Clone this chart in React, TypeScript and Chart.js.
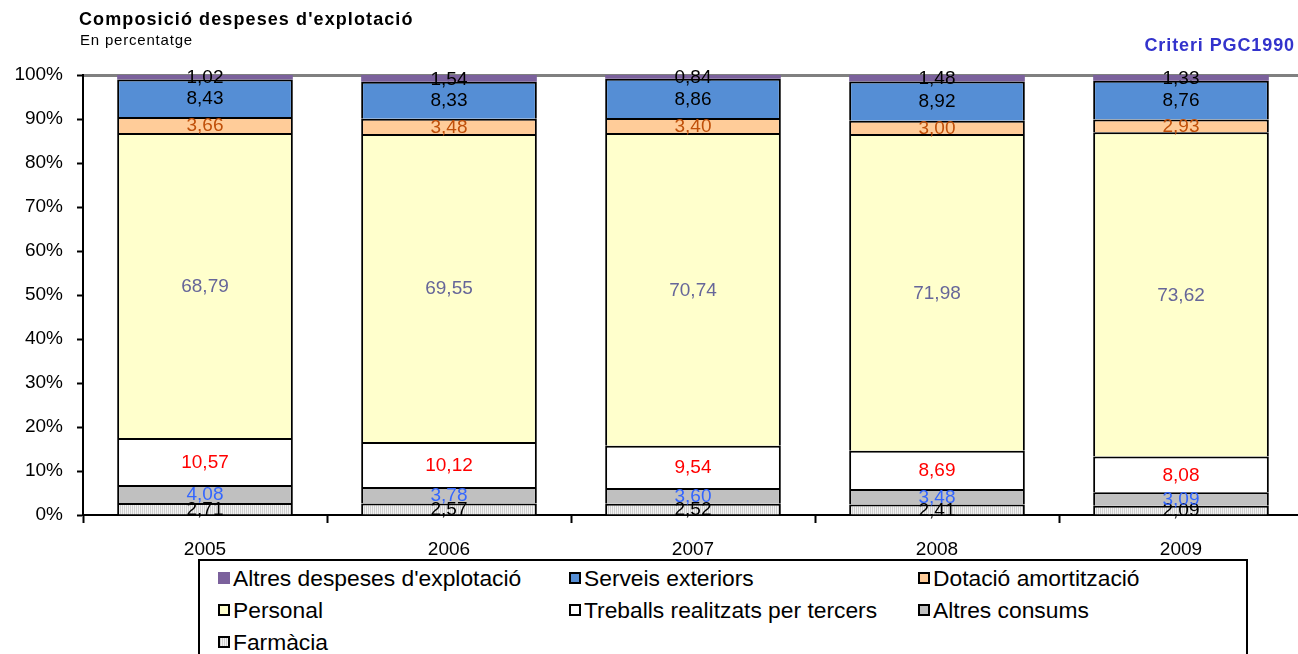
import { useEffect, useRef } from 'react';
import { Chart, registerables } from 'chart.js';

Chart.register(...registerables);

const years = ['2005', '2006', '2007', '2008', '2009'];
const farmacia = [2.71, 2.57, 2.52, 2.41, 2.09];
const altresConsums = [4.08, 3.78, 3.6, 3.48, 3.09];
const treballs = [10.57, 10.12, 9.54, 8.69, 8.08];
const personal = [68.79, 69.55, 70.74, 71.98, 73.62];
const dotacio = [3.66, 3.48, 3.4, 3.0, 2.93];
const serveis = [8.43, 8.33, 8.86, 8.92, 8.76];
const altresDespeses = [1.02, 1.54, 0.84, 1.48, 1.33];
const yTicks = [0, 10, 20, 30, 40, 50, 60, 70, 80, 90, 100];

const FONT = '"Liberation Sans", Arial, Helvetica, sans-serif';

function makeStripePattern(): CanvasPattern | string {
  const c = document.createElement('canvas');
  c.width = 2;
  c.height = 2;
  const g = c.getContext('2d');
  if (!g) return '#e0e0e0';
  g.fillStyle = '#f2f2f2';
  g.fillRect(0, 0, 2, 2);
  g.fillStyle = '#cfcfcf';
  g.fillRect(0, 0, 1, 2);
  const p = g.createPattern(c, 'repeat');
  return p || '#e0e0e0';
}

const fmt = (v: number) => v.toFixed(2).replace('.', ',');

const labelPlugin = {
  id: 'segmentLabels',
  afterDatasetsDraw(chart: any) {
    const ctx = chart.ctx;
    ctx.save();
    ctx.font = `19px ${FONT}`;
    ctx.textAlign = 'center';
    ctx.textBaseline = 'middle';
    chart.data.datasets.forEach((ds: any, di: number) => {
      const meta = chart.getDatasetMeta(di);
      meta.data.forEach((el: any, i: number) => {
        const p = el.getProps(['x', 'y', 'base'], true);
        ctx.fillStyle = ds.labelColor;
        ctx.fillText(fmt(ds.rawValues[i]), p.x, (p.y + p.base) / 2 + 1);
      });
    });
    ctx.restore();
  },
};

const legendItems = [
  { name: "Altres despeses d'explotació", color: '#7b619c', border: false, col: 0, row: 0 },
  { name: 'Serveis exteriors', color: '#558ed5', border: true, col: 1, row: 0 },
  { name: 'Dotació amortització', color: '#ffcc99', border: true, col: 2, row: 0 },
  { name: 'Personal', color: '#ffffcc', border: true, col: 0, row: 1 },
  { name: 'Treballs realitzats per tercers', color: '#ffffff', border: true, col: 1, row: 1 },
  { name: 'Altres consums', color: '#c0c0c0', border: true, col: 2, row: 1 },
  { name: 'Farmàcia', color: 'stripe', border: true, col: 0, row: 2 },
];

export default function App() {
  const ref = useRef<HTMLCanvasElement>(null);

  useEffect(() => {
    const canvas = ref.current;
    if (!canvas) return;
    const stripe = makeStripePattern();

    const series = [
      { label: 'Farmàcia', values: farmacia, bg: stripe, border: 2, labelColor: '#000000' },
      { label: 'Altres consums', values: altresConsums, bg: '#c0c0c0', border: 2, labelColor: '#3366ff' },
      { label: 'Treballs realitzats per tercers', values: treballs, bg: '#ffffff', border: 2, labelColor: '#ff0000' },
      { label: 'Personal', values: personal, bg: '#ffffcc', border: 2, labelColor: '#666699' },
      { label: 'Dotació amortització', values: dotacio, bg: '#ffcc99', border: 2, labelColor: '#c0500a' },
      { label: 'Serveis exteriors', values: serveis, bg: '#558ed5', border: 2, labelColor: '#000000' },
      { label: "Altres despeses d'explotació", values: altresDespeses, bg: '#7b619c', border: 0, labelColor: '#000000' },
    ];

    const totals = years.map((_, i) => series.reduce((s, d) => s + d.values[i], 0));

    const chart = new Chart(canvas, {
      type: 'bar',
      data: {
        labels: years,
        datasets: series.map((s) => ({
          label: s.label,
          data: s.values.map((v, i) => (v / totals[i]) * 100),
          rawValues: s.values,
          labelColor: s.labelColor,
          backgroundColor: s.bg as any,
          borderColor: '#000000',
          borderWidth: s.border,
          borderSkipped: 'start',
          barPercentage: 0.72,
          categoryPercentage: 1,
        })) as any,
      },
      options: {
        responsive: false,
        animation: false,
        devicePixelRatio: 1,
        layout: { padding: { top: 75, right: 7, left: 0, bottom: 0 } },
        plugins: {
          legend: { display: false },
          tooltip: { enabled: false },
          title: { display: false },
        },
        scales: {
          x: {
            stacked: true,
            afterFit: (scale: any) => {
              scale.height = 55;
            },
            grid: {
              offset: true,
              drawOnChartArea: false,
              drawTicks: true,
              tickLength: 8,
              tickColor: '#000000',
              tickWidth: 2,
              color: '#000000',
            },
            border: { color: '#000000', width: 2 },
            ticks: {
              color: '#000000',
              font: { family: FONT, size: 19 },
              padding: 15,
            },
          },
          y: {
            stacked: true,
            min: 0,
            max: 100,
            afterFit: (scale: any) => {
              scale.width = 83;
            },
            afterBuildTicks: (scale: any) => {
              scale.ticks = yTicks.map((v) => ({ value: v }));
            },
            grid: {
              color: (ctx: any) => (ctx.tick && ctx.tick.value === 100 ? '#808080' : 'rgba(0,0,0,0)'),
              lineWidth: (ctx: any) => (ctx.tick && ctx.tick.value === 100 ? 3 : 1),
              tickColor: '#000000',
              tickWidth: 2,
              tickLength: 6,
            },
            border: { color: '#000000', width: 2 },
            ticks: {
              color: '#000000',
              font: { family: FONT, size: 19 },
              padding: 14,
              callback: (v: any) => `${v}%`,
            },
          },
        },
      },
      plugins: [labelPlugin],
    });

    return () => chart.destroy();
  }, []);

  const colX = [218, 569, 918];
  const rowY = [578, 610, 642];

  return (
    <div
      style={{
        position: 'absolute',
        left: 0,
        top: 0,
        width: 1298,
        height: 654,
        overflow: 'hidden',
        background: '#ffffff',
        fontFamily: FONT,
      }}
    >
      <canvas ref={ref} width={1310} height={570} style={{ position: 'absolute', left: 0, top: 0 }} />
      <div
        style={{
          position: 'absolute',
          left: 79,
          top: 9,
          fontSize: 18,
          letterSpacing: '1.1px',
          fontWeight: 'bold',
          color: '#000',
          whiteSpace: 'nowrap',
        }}
      >
        Composició despeses d'explotació
      </div>
      <div
        style={{
          position: 'absolute',
          left: 80,
          top: 31,
          fontSize: 15,
          letterSpacing: '0.8px',
          color: '#000',
          whiteSpace: 'nowrap',
        }}
      >
        En percentatge
      </div>
      <div
        style={{
          position: 'absolute',
          right: 3,
          top: 35,
          fontSize: 18,
          letterSpacing: '0.9px',
          fontWeight: 'bold',
          color: '#3333cc',
          whiteSpace: 'nowrap',
        }}
      >
        Criteri PGC1990
      </div>
      <div
        style={{
          position: 'absolute',
          left: 198,
          top: 559,
          width: 1050,
          height: 120,
          border: '2px solid #000',
          boxSizing: 'border-box',
          background: '#fff',
        }}
      />
      {legendItems.map((it) => (
        <div
          key={it.name}
          style={{
            position: 'absolute',
            left: colX[it.col],
            top: rowY[it.row] - 13,
            height: 26,
            display: 'flex',
            alignItems: 'center',
            whiteSpace: 'nowrap',
            fontSize: 22.8,
            color: '#000',
          }}
        >
          <span
            style={{
              display: 'inline-block',
              width: 12,
              height: 12,
              boxSizing: 'border-box',
              border: it.border ? '2px solid #000' : 'none',
              background:
                it.color === 'stripe'
                  ? 'repeating-linear-gradient(90deg, #cfcfcf 0px, #cfcfcf 1px, #f2f2f2 1px, #f2f2f2 2px)'
                  : it.color,
              marginRight: 3,
            }}
          />
          <span>{it.name}</span>
        </div>
      ))}
    </div>
  );
}
